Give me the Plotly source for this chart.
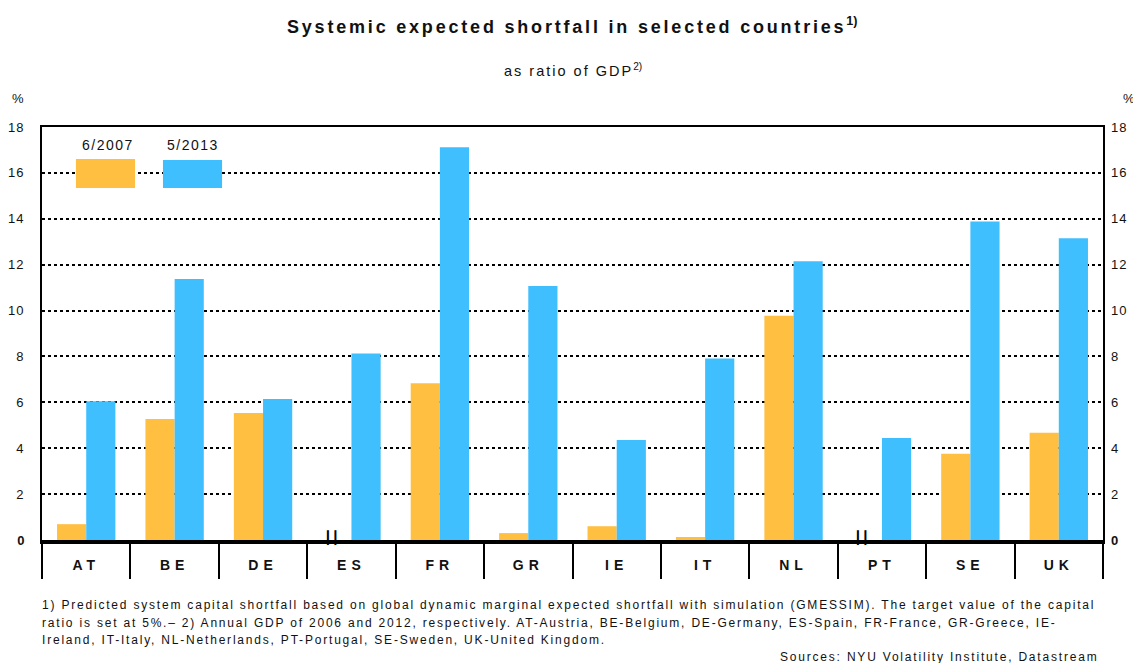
import plotly.graph_objects as go

countries = ["AT", "BE", "DE", "ES", "FR", "GR", "IE", "IT", "NL", "PT", "SE", "UK"]
v2007 = [0.69, 5.27, 5.53, None, 6.83, 0.30, 0.60, 0.13, 9.77, None, 3.76, 4.67]
v2013 = [6.05, 11.37, 6.14, 8.13, 17.12, 11.07, 4.36, 7.91, 12.15, 4.45, 13.88, 13.15]
yticks = [0, 2, 4, 6, 8, 10, 12, 14, 16, 18]
series_names = ["6/2007", "5/2013"]

ORANGE = "#FFBF40"
BLUE = "#40BFFF"
FONT = "Liberation Sans, Arial, sans-serif"
INK = "#111111"


def spaced(text, ls):
    return f'<span style="letter-spacing:{ls}px">{text}</span>'


fig = go.Figure()
fig.add_trace(go.Bar(x=countries, y=v2007, name=series_names[0], marker_color=ORANGE,
                     marker_line_width=0, showlegend=False))
fig.add_trace(go.Bar(x=countries, y=v2013, name=series_names[1], marker_color=BLUE,
                     marker_line_width=0, showlegend=False))
# invisible helper trace for secondary axes
fig.add_trace(go.Scatter(x=countries, y=[0] * len(countries), xaxis="x2", yaxis="y2",
                         mode="markers", marker_opacity=0, showlegend=False, hoverinfo="skip"))

yticktext = ["<b>0</b>"] + [spaced(str(t), 1) for t in yticks[1:]]
xticktext = [spaced(c, 5) for c in countries]
xrange = [-0.5, len(countries) - 0.5]

# page body has an 8px margin; plot area spans x 42..1103, y 127..540 on the page
fig.update_layout(
    width=1133, height=655,
    margin=dict(l=34, r=38, t=119, b=123, autoexpand=False),
    paper_bgcolor="white", plot_bgcolor="white",
    barmode="group", bargap=0.34, bargroupgap=0,
    font=dict(family=FONT, color=INK, size=12),
    xaxis=dict(
        categoryorder="array", categoryarray=countries, range=xrange,
        tickvals=countries, ticktext=xticktext, automargin=False,
        tickfont=dict(family=FONT, size=14, weight="bold", color=INK),
        ticks="", showline=True, linewidth=3.5, linecolor="black",
        ticklabelstandoff=9, showgrid=False, zeroline=False,
    ),
    xaxis2=dict(
        overlaying="x", matches="x", side="bottom", automargin=False,
        categoryorder="array", categoryarray=countries, range=xrange,
        ticks="outside", tickson="boundaries", ticklen=37, tickwidth=1.5,
        tickcolor="black", showticklabels=False, showline=True, mirror=True,
        linewidth=2, linecolor="black", showgrid=False, zeroline=False,
    ),
    yaxis=dict(
        range=[0, 18], tickvals=yticks, ticktext=yticktext, automargin=False,
        tickfont=dict(family=FONT, size=13, color=INK),
        showgrid=True, gridcolor="black", griddash="dot", gridwidth=1.5,
        showline=True, mirror=True, linewidth=2, linecolor="black",
        zeroline=False, ticks="", ticklabelstandoff=13,
    ),
    yaxis2=dict(
        overlaying="y", side="right", matches="y", range=[0, 18], automargin=False,
        tickvals=yticks, ticktext=yticktext,
        tickfont=dict(family=FONT, size=13, color=INK),
        showgrid=False, zeroline=False, ticks="", ticklabelstandoff=7,
        showline=False,
    ),
)

foot_font = dict(family=FONT, size=12, color=INK)
foot_ls = 1.8


def ann(text, x, y, xref="paper", yref="paper", xanchor="center", xshift=0, yshift=0, font=None):
    return dict(text=text, x=x, y=y, xref=xref, yref=yref, xanchor=xanchor, yanchor="middle",
                xshift=xshift, yshift=yshift, showarrow=False, font=font or foot_font)


annotations = [
    ann(spaced("Systemic expected shortfall in selected countries", 2.8) + "<sup>1)</sup>",
        0.5, 1, yshift=102, font=dict(family=FONT, size=18, weight="bold", color=INK)),
    ann(spaced("as ratio of GDP", 2) + "<sup>2)</sup>", 0.5, 1, yshift=57,
        font=dict(family=FONT, size=14.5, color=INK)),
    ann("%", 0, 1, xshift=-24, yshift=29, font=dict(family=FONT, size=13, color=INK)),
    ann("%", 1, 1, xshift=26, yshift=29, font=dict(family=FONT, size=13, color=INK)),
    ann(spaced("1) Predicted system capital shortfall based on global dynamic marginal expected shortfall with simulation (GMESSIM). The target value of the capital", foot_ls),
        0, 0, xanchor="left", xshift=-2, yshift=-65),
    ann(spaced("ratio is set at 5%.– 2) Annual GDP of 2006 and 2012, respectively. AT-Austria, BE-Belgium, DE-Germany, ES-Spain, FR-France, GR-Greece, IE-", foot_ls),
        0, 0, xanchor="left", xshift=-2, yshift=-83),
    ann(spaced("Ireland, IT-Italy, NL-Netherlands, PT-Portugal, SE-Sweden, UK-United Kingdom.", foot_ls),
        0, 0, xanchor="left", xshift=-2, yshift=-100),
    ann(spaced("Sources: NYU Volatility Institute, Datastream", foot_ls),
        1, 0, xanchor="right", xshift=-3, yshift=-117),
    # legend labels
    ann(spaced(series_names[0], 1.5), 0.0622, 1, yshift=-18,
        font=dict(family=FONT, size=14, color=INK)),
    ann(spaced(series_names[1], 1.5), 0.1423, 1, yshift=-18,
        font=dict(family=FONT, size=14, color=INK)),
]

# break markers for missing 2007 values
for c, v in zip(countries, v2007):
    if v is None:
        annotations.append(ann("┃┃", c, 0, xref="x", yref="y", xshift=-20, yshift=2.5,
                               font=dict(family="DejaVu Sans", size=12.5, color="black")))

fig.update_layout(annotations=annotations)

# legend swatches
fig.add_shape(type="rect", xref="paper", yref="paper", x0=0.0320, x1=0.0877, y0=0.852, y1=0.9225,
              fillcolor=ORANGE, line_width=0, layer="above")
fig.add_shape(type="rect", xref="paper", yref="paper", x0=0.1140, x1=0.1697, y0=0.852, y1=0.920,
              fillcolor=BLUE, line_width=0, layer="above")

fig.write_html("out.html")
